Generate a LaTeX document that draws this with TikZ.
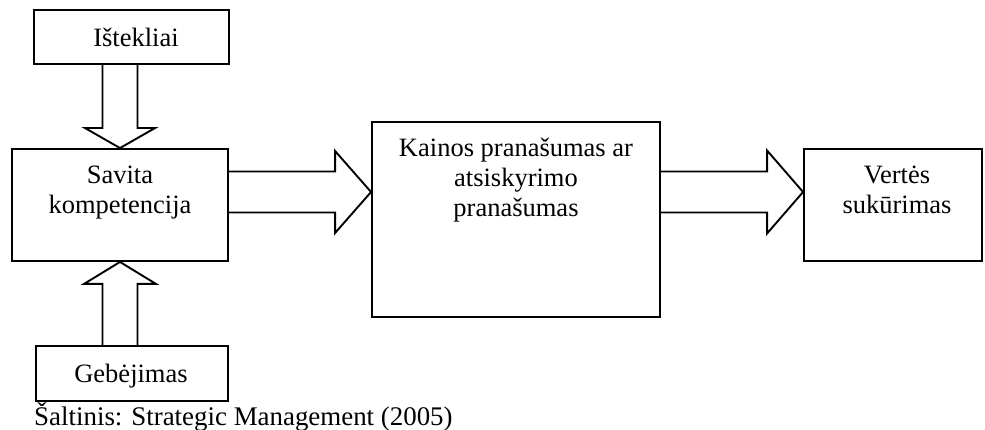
\documentclass[tikz,border=0pt]{standalone}
\usepackage{fontspec}
\setmainfont{Liberation Serif}
\usetikzlibrary{calc}
\tikzset{
  box/.style={draw, line width=1.9pt, rectangle, inner sep=0pt},
  lbl/.style={inner sep=0pt, font=\fontsize{26.5}{30}\selectfont, align=center},
  fatline/.style={draw, line width=1.9pt, line join=miter},
}
% hollow block arrow: #1 start, #2 tip, #3 shaft half width,
% #4 head half width, #5 head length
\newcommand\blockarrow[5]{%
  \coordinate (ba-base) at ($(#2)!#5!(#1)$);
  \draw[fatline] ($(#1)!#3!90:(#2)$) -- ($(ba-base)!#3!90:(#2)$)
    -- ($(ba-base)!#4!90:(#2)$) -- (#2) -- ($(ba-base)!#4!-90:(#2)$)
    -- ($(ba-base)!#3!-90:(#2)$) -- ($(#1)!#3!-90:(#2)$);
}
\begin{document}
\begin{tikzpicture}[x=1pt,y=-1pt]
\useasboundingbox (0,0) rectangle (985,430);

% boxes
\node[box, minimum width=195pt, minimum height=54pt]  (ist) at (131.5,37) {};
\node[box, minimum width=216pt, minimum height=112pt] (sav) at (120,205) {};
\node[box, minimum width=192pt, minimum height=55pt]  (geb) at (132,373.5) {};
\node[box, minimum width=288pt, minimum height=195pt] (kai) at (516,219.5) {};
\node[box, minimum width=178pt, minimum height=112pt] (ver) at (893,205) {};

% texts
\node[lbl, anchor=base] (ist-t) at ($(ist.south)+(4.5,-18)$) {Ištekliai};
\node[lbl, anchor=north] (sav-t) at ($(sav.north)+(0,18)$) {Savita\\kompetencija};
\node[lbl, anchor=base] (geb-t) at ($(geb.south)+(-1,-19)$) {Gebėjimas};
\node[lbl, anchor=north] (kai-t) at ($(kai.north)+(0,17)$) {Kainos pranašumas ar\\atsiskyrimo\\pranašumas};
\node[lbl, anchor=north] (ver-t) at ($(ver.north)+(4,18)$) {Vertės\\sukūrimas};
\node[lbl, anchor=base west, font=\fontsize{26.9}{30}\selectfont] (src)
  at ($(geb.south west)+(-1,23.5)$) {Šaltinis: Strategic Management (2005)};

% block arrows
\coordinate (a1s) at (sav.north |- ist.south);
\blockarrow{a1s}{sav.north}{17.5pt}{35pt}{20pt}
\coordinate (a2s) at (sav.south |- geb.north);
\blockarrow{a2s}{sav.south}{17.5pt}{36pt}{22pt}
\coordinate (a3s) at ($(sav.east)+(0,-13)$);
\coordinate (a3e) at (kai.west |- a3s);
\blockarrow{a3s}{a3e}{20.5pt}{41pt}{36pt}
\coordinate (a4s) at (kai.east |- a3s);
\coordinate (a4e) at (ver.west |- a3s);
\blockarrow{a4s}{a4e}{20.5pt}{41.5pt}{36pt}
\end{tikzpicture}
\end{document}
